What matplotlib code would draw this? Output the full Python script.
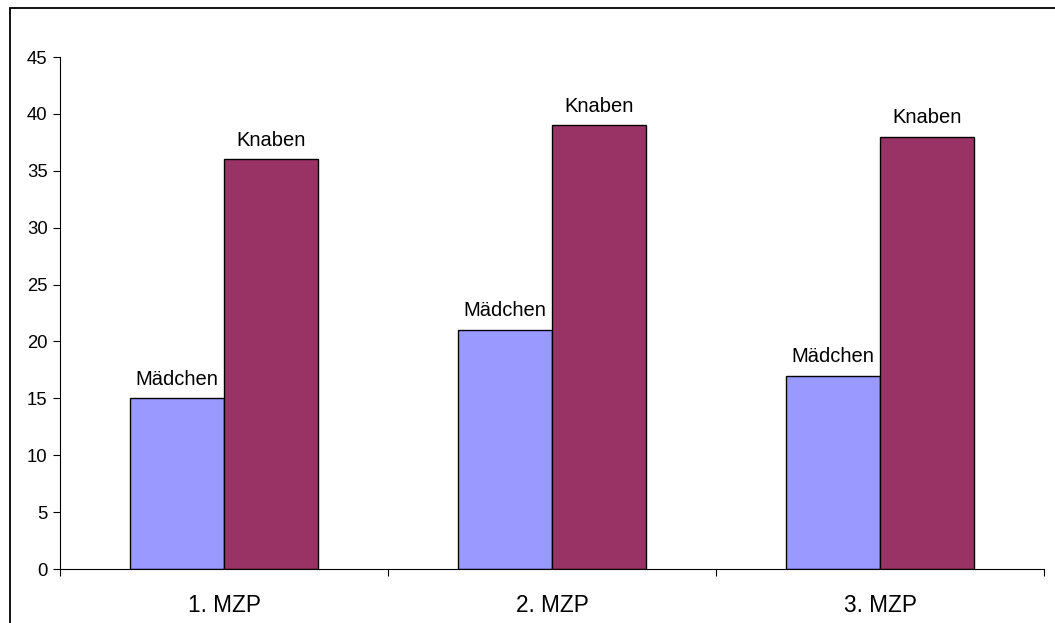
import matplotlib
matplotlib.use("Agg")
import matplotlib.pyplot as plt
from matplotlib.patches import Rectangle
import numpy as np

plt.rcParams['font.family'] = ['Liberation Sans', 'DejaVu Sans']

categories = ["1. MZP", "2. MZP", "3. MZP"]
series_names = ["Mädchen", "Knaben"]
maedchen = [15, 21, 17]
knaben = [36, 39, 38]
y_ticks = list(range(0, 50, 5))

W, H = 1055, 623
fig = plt.figure(figsize=(W / 100, H / 100), dpi=100)
fig.patch.set_facecolor("white")

# outer chart frame (runs off the right and bottom edges)
fig.patches.append(Rectangle((10 / W, -0.05), 1.1, 1 - 8 / H + 0.05,
                             transform=fig.transFigure, fill=False,
                             edgecolor="black", linewidth=1.3, zorder=0))

ax = fig.add_axes([60 / W, 54 / H, (1044 - 60) / W, (569 - 57) / H])
x = np.arange(len(categories))
bw = 0.288
b1 = ax.bar(x - bw / 2, maedchen, bw, color="#9999FF", edgecolor="black", linewidth=1)
b2 = ax.bar(x + bw / 2, knaben, bw, color="#993366", edgecolor="black", linewidth=1)

for bars, name in ((b1, series_names[0]), (b2, series_names[1])):
    for r in bars:
        ax.annotate(name, (r.get_x() + r.get_width() / 2, r.get_height()),
                    xytext=(0, 7), textcoords="offset points",
                    ha="center", va="bottom", fontsize=14.5)

ax.set_xlim(-0.5, len(categories) - 0.5)
ax.set_ylim(0, 45)
ax.set_yticks(y_ticks)
ax.tick_params(axis="y", labelsize=13.3, length=5, width=0.8, pad=4)

ax.set_xticks(np.arange(-0.5, len(categories), 1.0))
ax.set_xticklabels([])
ax.set_xticks(x, minor=True)
ax.set_xticklabels(categories, minor=True)
ax.tick_params(axis="x", which="major", length=5, width=0.8, direction="out")
ax.tick_params(axis="x", which="minor", length=0, labelsize=16.3, pad=18)

ax.spines["top"].set_visible(False)
ax.spines["right"].set_visible(False)
for s in ("left", "bottom"):
    ax.spines[s].set_linewidth(0.8)

fig.savefig("out.png", dpi=100)
